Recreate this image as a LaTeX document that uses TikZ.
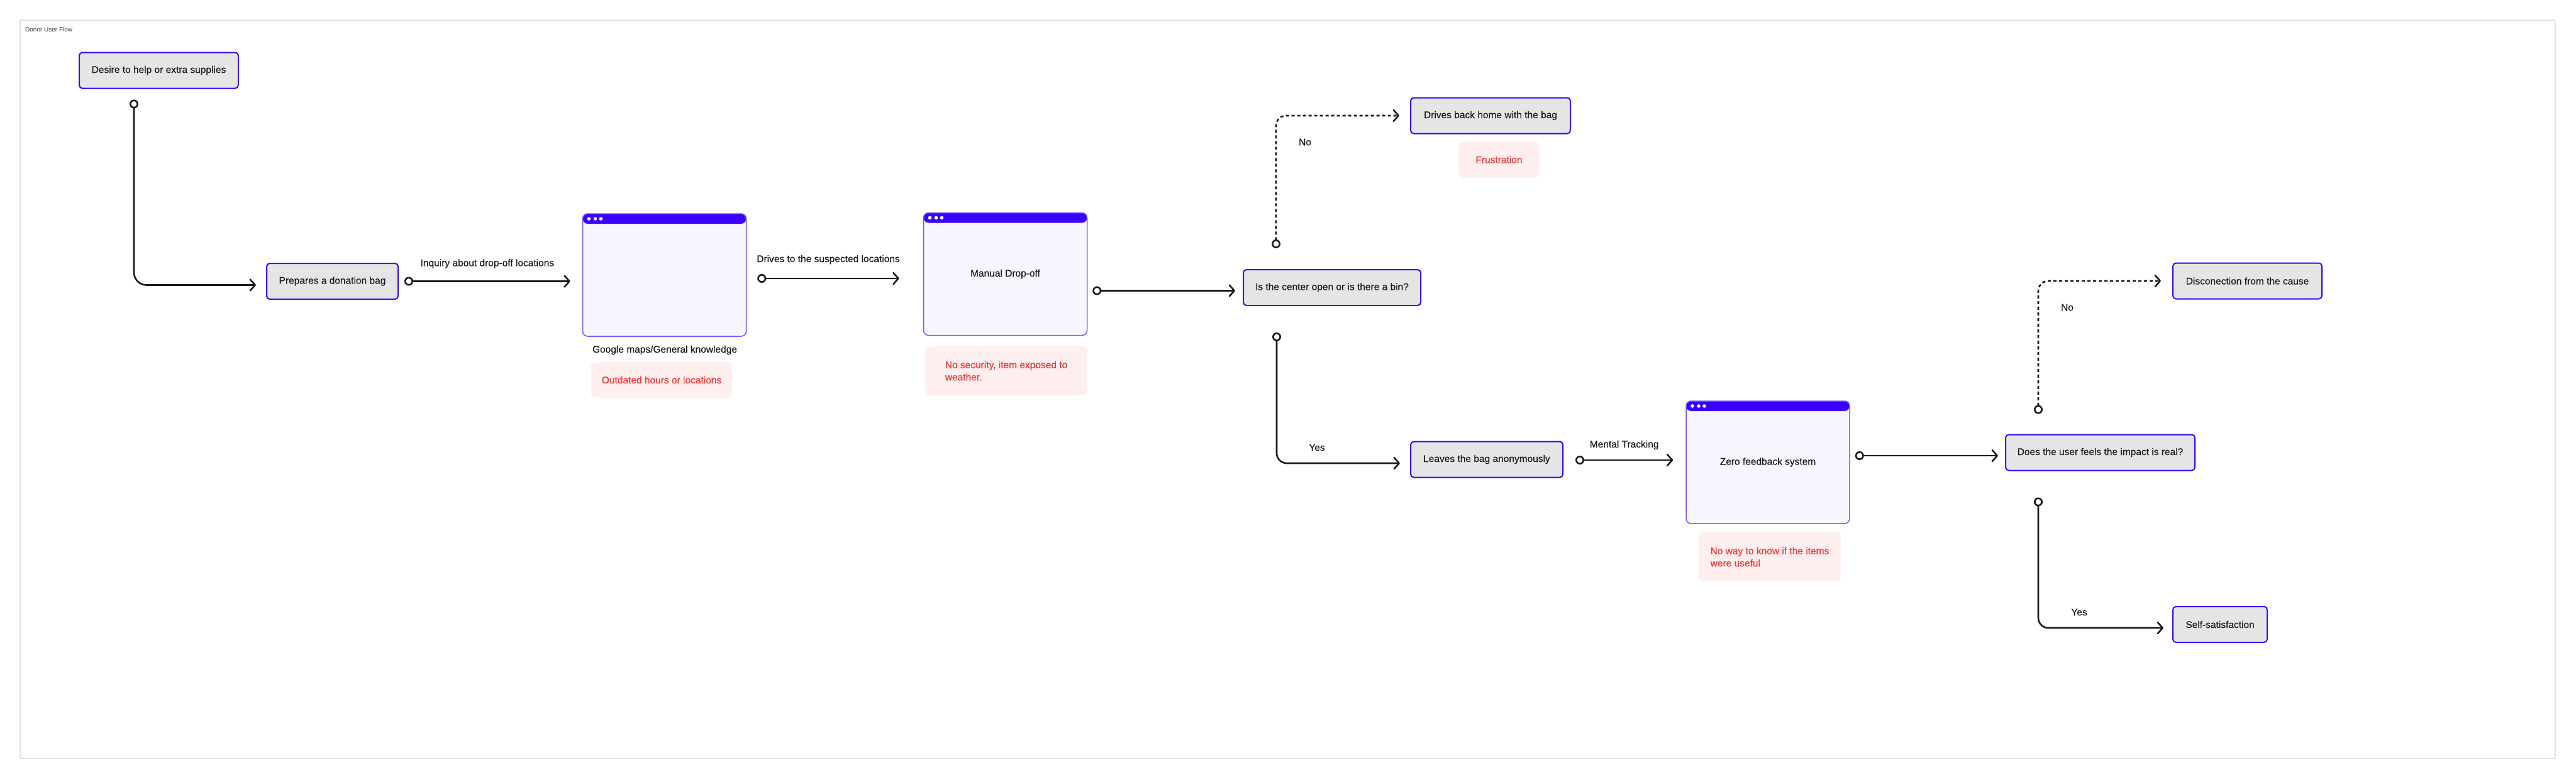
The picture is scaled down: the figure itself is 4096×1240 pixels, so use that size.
\documentclass[tikz,border=0pt]{standalone}
\usepackage{fontspec}
\setmainfont{Liberation Sans}
\newfontfamily\flowfam{Liberation Sans}[FakeBold=0.35]
\newfontfamily\notefam{Liberation Sans}[FakeBold=0.7]
\usepackage{tikz}
\usetikzlibrary{arrows.meta, calc}
\usepackage{xcolor}

\definecolor{ink}{HTML}{1A1A1A}
\definecolor{edgeblue}{HTML}{3A00FF}
\definecolor{boxgray}{HTML}{E5E5E5}
\definecolor{winfill}{HTML}{F8F7FF}
\definecolor{winedge}{HTML}{6A5AFF}
\definecolor{notefill}{HTML}{FFEEEE}
\definecolor{notered}{HTML}{F23B3B}
\definecolor{framegray}{HTML}{D2D2D2}

\newcommand{\flowfont}{\flowfam\fontsize{15.5pt}{19.5pt}\selectfont}
\newcommand{\notefont}{\notefam\fontsize{15.5pt}{19.5pt}\selectfont}

\tikzset{
  stepbox/.style={draw=edgeblue, line width=2pt, fill=boxgray, rounded corners=5pt,
    minimum height=57pt, inner sep=0pt, text=ink, font=\flowfont},
  win/.style={draw=winedge, line width=1.5pt, fill=winfill, rounded corners=8pt,
    minimum width=260pt, minimum height=195pt, inner sep=0pt, text=ink, font=\flowfont,
    path picture={
      \fill[edgeblue] (path picture bounding box.north west) rectangle ([yshift=-16pt]path picture bounding box.north east);
      \foreach \dx in {10,20,29}
        \fill[white] ([xshift=\dx pt, yshift=-8pt]path picture bounding box.north west) circle (2.8pt);
    }},
  note/.style={fill=notefill, rounded corners=7pt, text=notered, font=\notefont,
    inner sep=0pt, minimum height=57pt},
  lbl/.style={text=ink, font=\flowfont, inner sep=0pt},
  flow/.style={draw=ink, line width=2.6pt, rounded corners=16pt,
    arrows={Circle[open, length=14pt, width=14pt, fill=white]-Straight Barb[length=8pt, width=18pt, round]}},
  dotflow/.style={flow, dash pattern=on 5pt off 4pt},
}

\begin{document}
\begin{tikzpicture}[x=1pt, y=-1pt]
  \useasboundingbox (0,0) rectangle (4096,1240);

  % Board
  \draw[framegray, line width=1.2pt, rounded corners=2pt] (32,32) rectangle (4063,1207);
  \node[anchor=west, inner sep=0pt, text=ink!85, font=\fontsize{10pt}{12pt}\selectfont] (title) at (40,47) {Donor User Flow};

  % Start
  \node[stepbox, minimum width=253pt] (desire) at (252.5,112) {Desire to help or extra supplies};
  \node[stepbox, minimum width=209pt] (prep) at (528.5,447.5) {Prepares a donation bag};

  % Looking up the drop-off
  \node[win] (google) at (1056.5,437.5) {};
  \node[lbl] (googlelbl) at (1057,557) {Google maps/General knowledge};
  \node[note, minimum width=224pt] (gnote) at (1052,604.5) {Outdated hours or locations};

  % Drop-off
  \node[win] (manual) at (1598.5,436) {Manual Drop-off};
  \node[note, minimum width=258pt, minimum height=78pt, align=left] (mnote) at (1600,590) {No security, item exposed to\\weather.};

  % First decision
  \node[stepbox, minimum width=282pt] (isopen) at (2118,457.5) {Is the center open or is there a bin?};
  \node[stepbox, minimum width=254pt] (home) at (2370,184) {Drives back home with the bag};
  \node[note, minimum width=127pt] (frus) at (2383.5,254) {Frustration};
  \node[stepbox, minimum width=242pt] (leaves) at (2364,731) {Leaves the bag anonymously};

  % After leaving
  \node[win] (zero) at (2811,735.5) {Zero feedback system};
  \node[note, minimum width=226pt, minimum height=78pt, align=left] (znote) at (2814,886) {No way to know if the items\\were useful};

  % Second decision
  \node[stepbox, minimum width=301pt] (does) at (3339.5,720) {Does the user feels the impact is real?};
  \node[stepbox, minimum width=237pt] (disc) at (3573.5,447) {Disconection from the cause};
  \node[stepbox, minimum width=150pt] (self) at (3530,993.5) {Self-satisfaction};

  % Connectors
  \draw[flow, rounded corners=20pt] ($(desire.south)+(-39.5,17)$) |- ($(prep.west)+(-16,6)$);
  \draw[flow] ([xshift=9pt]prep.east) -- ($(prep.east -| google.west)+(-19,0)$)
    node[lbl, midway, yshift=28pt] (inqlbl) {Inquiry about drop-off locations};
  \draw[flow] ($(google.east)+(17,5.5)$) -- ($(google.east -| manual.west)+(-38,5.5)$)
    node[lbl, midway, yshift=30pt] (drvlbl) {Drives to the suspected locations};
  \draw[flow] ($(manual.east |- isopen.west)+(8,5)$) -- ($(isopen.west)+(-12,5)$);

  \draw[dotflow] ($(isopen.north west)+(53,-33)$) |- ($(home.west)+(-17,0)$);
  \node[lbl] (no1) at (2075,226) {No};
  \draw[flow] ($(isopen.south west)+(54,42)$) |- ($(leaves.west)+(-16,6)$);
  \node[lbl] (yes1) at (2094,712) {Yes};

  \draw[flow] ($(leaves.east)+(19,1)$) -- ($(leaves.east -| zero.west)+(-20,1)$)
    node[lbl, midway, yshift=24pt] (mtlbl) {Mental Tracking};
  \draw[flow] ($(zero.east |- does.west)+(8,5)$) -- ($(does.west)+(-11,5)$);

  \draw[dotflow] ($(does.north west)+(53,-32)$) |- ($(disc.west)+(-18,0)$);
  \node[lbl] (no2) at (3287,489) {No};
  \draw[flow] ($(does.south west)+(53,42)$) |- ($(self.west)+(-14,5.5)$);
  \node[lbl] (yes2) at (3306,974) {Yes};
\end{tikzpicture}
\end{document}
